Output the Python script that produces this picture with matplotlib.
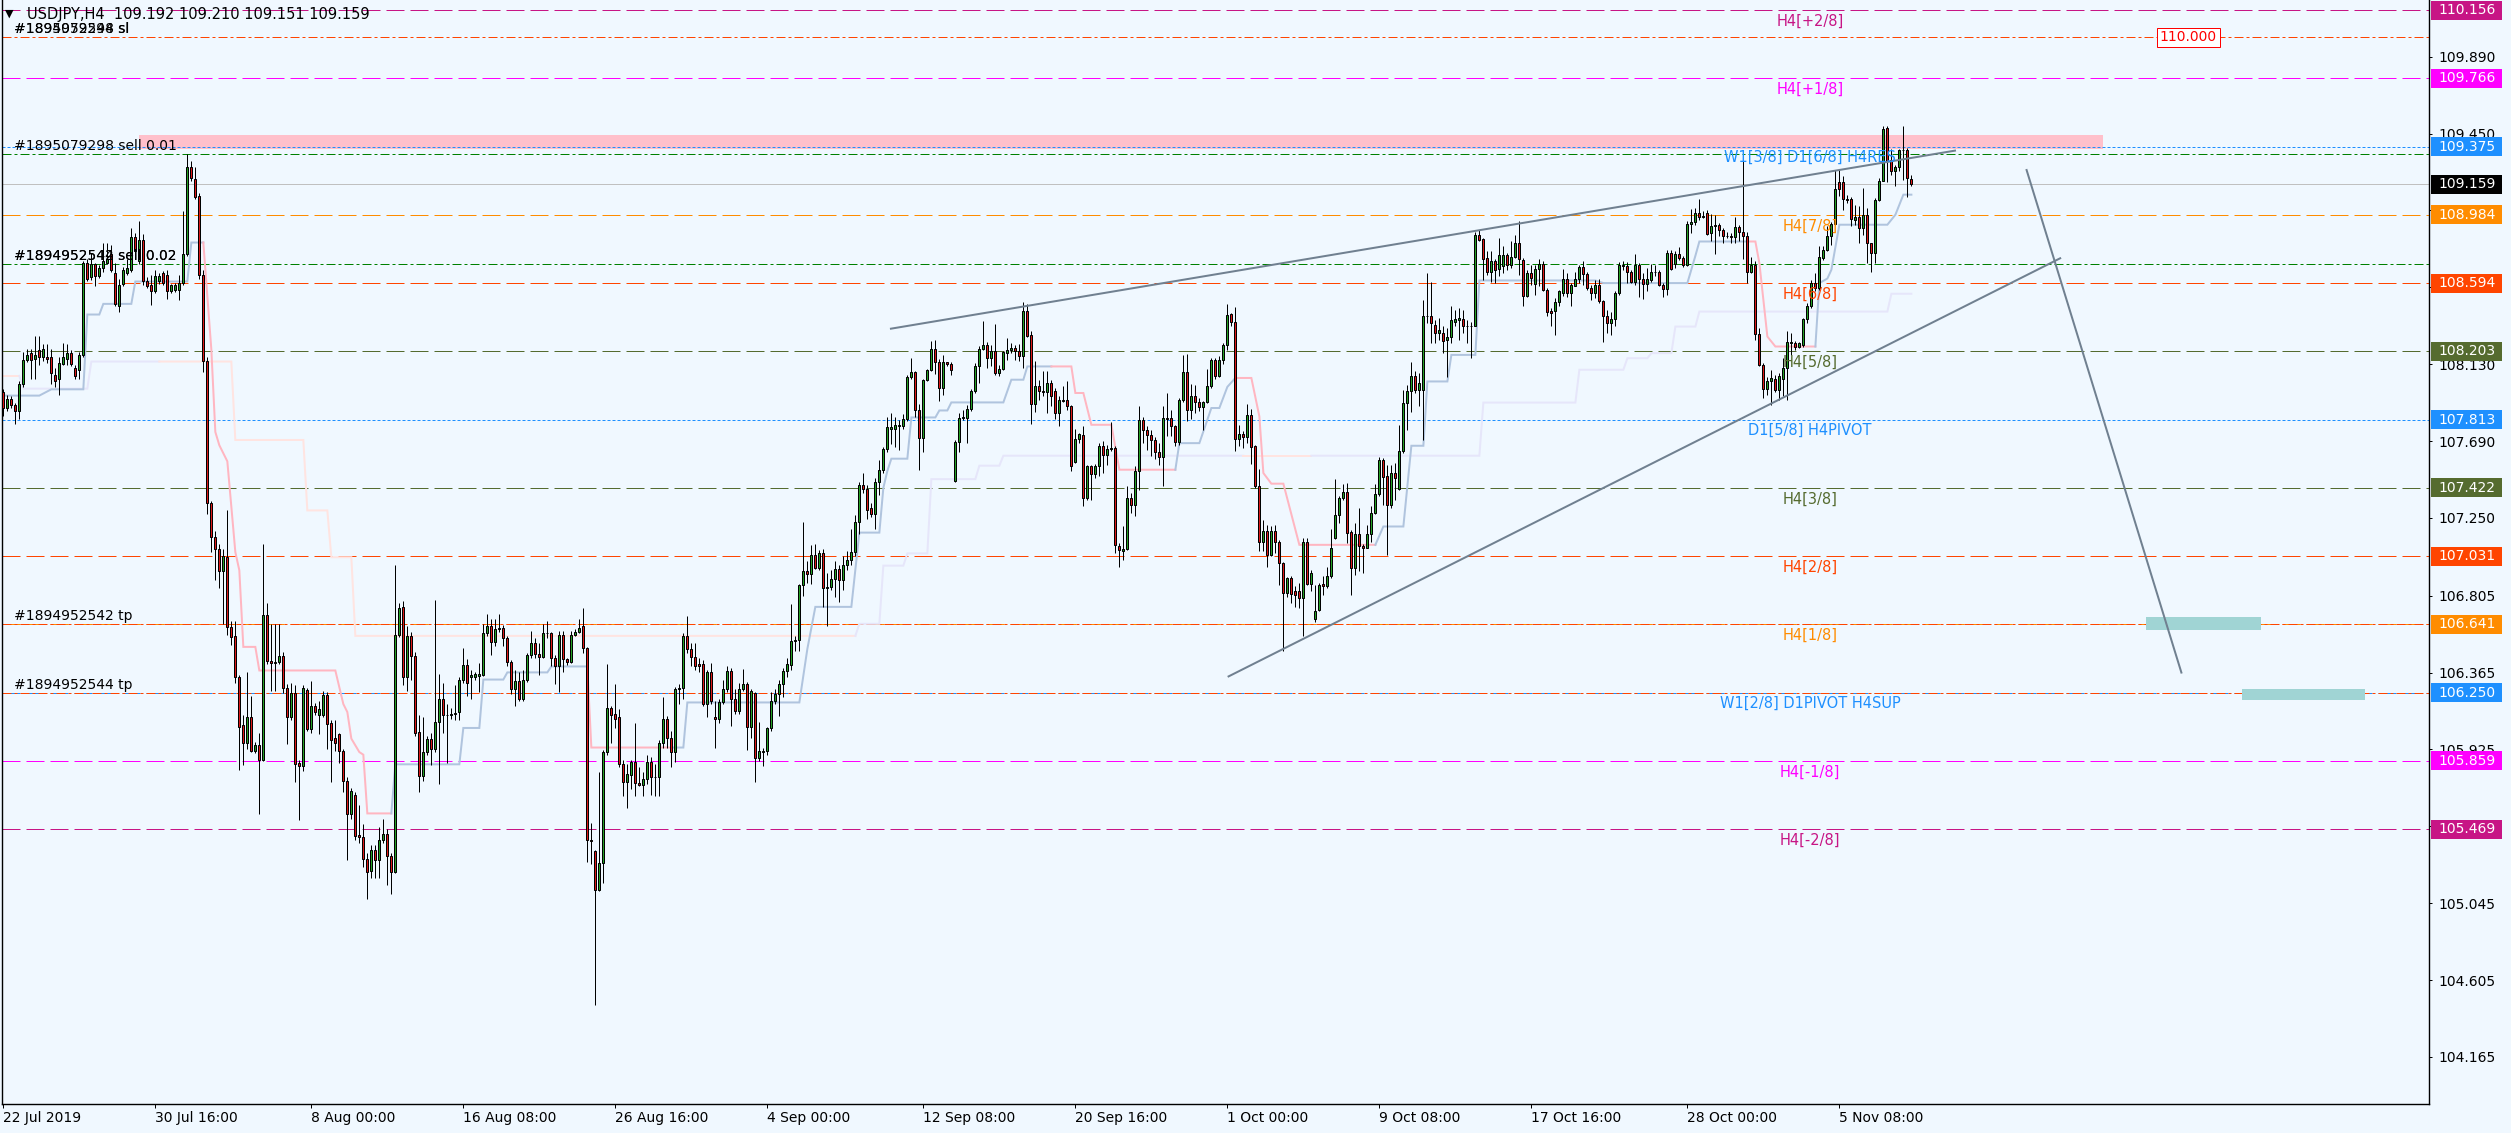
import numpy as np
import matplotlib
matplotlib.use('Agg')
import matplotlib.pyplot as plt
from matplotlib.patches import Rectangle
from matplotlib.transforms import blended_transform_factory

# ---- USDJPY H4 candles (bar 0 = 22 Jul 2019 00:00) ----
opens = [
107.971,107.879,107.931,107.895,107.864,108.017,108.154,108.191,108.160,108.209,
108.169,108.169,108.169,108.069,108.047,108.133,108.160,108.191,108.108,108.099,
108.185,108.710,108.627,108.704,108.637,108.679,108.710,108.759,108.649,108.460,
108.588,108.649,108.667,108.856,108.719,108.841,108.606,108.582,108.551,108.606,
108.649,108.643,108.551,108.557,108.557,108.597,108.759,109.259,109.192,109.094,
108.643,108.148,107.336,107.141,107.070,106.948,107.025,106.628,106.573,106.338,
106.063,105.962,106.108,105.919,105.950,105.864,106.695,106.429,106.420,106.426,
106.460,106.277,106.108,106.246,105.849,105.828,106.267,106.041,106.176,106.124,
106.124,106.237,106.078,105.992,106.011,105.919,105.742,105.553,105.666,105.437,
105.422,105.299,105.229,105.351,105.290,105.406,105.443,105.315,105.223,106.582,
106.741,106.338,106.573,106.460,106.023,105.773,105.910,105.986,105.925,106.084,
106.215,106.124,106.120,106.127,106.139,106.322,106.408,106.339,106.339,106.344,
106.352,106.589,106.630,106.539,106.616,106.622,106.561,106.427,106.269,106.316,
106.214,106.325,106.464,106.533,106.472,106.455,106.594,106.591,106.450,106.400,
106.580,106.444,106.427,106.580,106.597,106.630,106.505,105.408,105.344,105.122,
105.277,105.908,106.164,106.130,106.111,105.844,105.741,105.778,105.852,105.733,
105.719,105.755,105.852,105.769,105.766,105.964,106.102,105.991,105.908,106.269,
106.277,106.575,106.500,106.455,106.416,106.416,106.186,106.366,106.110,106.102,
106.194,106.269,106.372,106.214,106.144,106.269,106.302,106.055,106.250,105.875,
105.910,105.916,106.047,106.205,106.244,106.302,106.372,106.408,106.547,106.550,
106.866,106.944,106.928,107.039,106.964,107.047,106.847,106.852,106.900,106.955,
106.894,106.978,107.011,107.055,107.227,107.441,107.416,107.305,107.275,107.455,
107.525,107.644,107.761,107.761,107.778,107.778,107.816,108.055,108.083,107.866,
107.705,108.039,108.094,108.219,108.144,107.993,108.140,108.133,107.459,107.682,
107.821,107.821,107.873,107.974,108.117,108.217,108.241,108.165,108.203,108.079,
108.102,108.194,108.209,108.222,108.203,108.178,108.432,108.299,107.904,108.003,
107.974,107.968,108.022,107.974,107.850,107.926,107.926,107.888,107.568,107.701,
107.726,107.363,107.545,107.503,107.549,107.659,107.612,107.644,107.650,107.091,
107.058,107.072,107.363,107.325,107.516,107.812,107.751,107.726,107.694,107.625,
107.598,107.821,107.821,107.778,107.682,107.926,108.083,107.865,107.949,107.911,
107.884,107.911,108.003,108.155,108.064,108.155,108.241,108.417,108.369,107.701,
107.732,107.713,107.841,107.659,107.434,107.115,107.173,107.039,107.173,107.115,
106.991,106.823,106.905,106.829,106.829,106.791,107.115,106.873,106.671,106.724,
106.873,106.858,106.919,107.134,107.268,107.363,107.396,107.167,106.963,107.159,
107.091,107.077,107.159,107.278,107.388,107.579,107.488,107.325,107.507,107.415,
107.631,107.907,107.978,108.060,107.983,107.983,108.403,108.407,108.355,108.311,
108.311,108.269,108.288,108.374,108.382,108.388,108.349,108.346,108.350,108.870,
108.846,108.737,108.655,108.718,108.674,108.689,108.756,108.699,108.746,108.826,
108.727,108.521,108.651,108.590,108.674,108.704,108.556,108.437,108.437,108.483,
108.540,108.617,108.536,108.578,108.617,108.685,108.647,108.565,108.536,108.584,
108.489,108.407,108.365,108.388,108.536,108.699,108.693,108.655,108.603,108.699,
108.617,108.590,108.613,108.660,108.660,108.584,108.559,108.765,108.704,108.762,
108.737,108.699,108.933,108.941,108.994,108.971,108.994,108.880,108.928,108.928,
108.895,108.865,108.865,108.857,108.914,108.884,108.865,108.660,108.699,108.304,
108.126,107.987,108.031,108.044,107.983,108.044,108.107,108.250,108.250,108.227,
108.241,108.388,108.460,108.594,108.565,108.737,108.781,108.865,108.933,109.170,
109.170,109.075,109.075,108.956,108.975,108.909,108.985,108.823,108.765,109.071,
109.180,109.481,109.300,109.233,109.258,109.357,109.357,109.192]
highs = [
107.986,107.956,107.947,107.910,108.032,108.200,108.215,108.215,108.292,108.292,
108.246,108.246,108.215,108.108,108.169,108.252,108.246,108.209,108.124,108.200,
108.719,108.734,108.765,108.710,108.698,108.826,108.826,108.811,108.710,108.618,
108.688,108.734,108.911,108.881,108.948,108.872,108.627,108.643,108.667,108.652,
108.665,108.667,108.590,108.595,108.643,109.009,109.330,109.290,109.259,109.107,
108.667,108.169,107.345,107.177,107.101,107.070,107.293,106.658,106.658,106.353,
106.124,106.368,106.231,105.965,106.017,107.101,106.765,106.643,106.643,106.643,
106.481,106.298,106.307,106.292,105.864,106.292,106.277,106.316,106.190,106.200,
106.261,106.255,106.093,106.093,106.017,105.925,105.767,105.706,105.681,105.605,
105.498,105.330,105.376,105.376,105.483,105.529,105.467,105.330,106.979,106.765,
106.774,106.634,106.597,106.481,106.124,106.108,106.002,106.017,106.780,106.359,
106.307,106.185,106.160,106.292,106.338,106.506,106.444,106.380,106.370,106.422,
106.644,106.700,106.672,106.672,106.700,106.639,106.575,106.436,106.380,106.366,
106.380,106.477,106.602,106.561,106.533,106.644,106.658,106.600,106.464,106.602,
106.602,106.450,106.602,106.617,106.672,106.733,106.511,105.505,105.352,105.797,
105.922,106.416,106.172,106.302,106.158,105.866,105.839,105.866,106.075,105.825,
105.797,105.894,105.880,105.839,105.977,106.227,106.116,106.033,106.283,106.297,
106.594,106.686,106.533,106.533,106.450,106.436,106.380,106.422,106.200,106.214,
106.325,106.400,106.394,106.269,106.305,106.388,106.311,106.269,106.255,106.083,
105.936,106.055,106.255,106.269,106.325,106.394,106.450,106.755,106.575,106.872,
107.227,107.005,107.094,107.100,107.066,107.075,106.936,106.950,107.005,106.978,
107.033,107.061,107.186,107.269,107.455,107.505,107.436,107.338,107.477,107.583,
107.658,107.825,107.852,107.825,107.811,107.844,108.066,108.166,108.089,107.900,
108.047,108.102,108.261,108.269,108.158,108.184,108.140,108.140,107.697,107.850,
107.869,107.898,107.988,108.136,108.236,108.375,108.255,108.241,108.362,108.127,
108.203,108.280,108.251,108.241,108.247,108.484,108.476,108.318,108.146,108.041,
108.089,108.089,108.041,107.993,107.945,108.007,108.031,107.898,107.759,107.736,
107.774,107.554,107.554,107.560,107.678,107.688,107.669,107.797,107.659,107.106,
107.201,107.430,107.392,107.545,107.888,107.827,107.778,107.755,107.713,107.678,
107.888,107.965,107.869,107.783,107.936,108.184,108.190,108.018,108.012,107.936,
107.917,108.102,108.165,108.165,108.175,108.251,108.476,108.423,108.457,107.783,
107.745,107.904,107.873,107.669,107.530,107.239,107.211,107.201,107.211,107.125,
106.995,106.911,106.919,106.858,106.877,107.135,107.135,106.953,106.867,106.877,
106.915,106.972,107.186,107.472,107.373,107.446,107.449,107.182,107.220,107.306,
107.102,107.211,107.316,107.446,107.598,107.592,107.554,107.554,107.564,107.783,
107.984,108.012,108.140,108.089,108.078,108.498,108.651,108.603,108.384,108.393,
108.346,108.336,108.460,108.441,108.451,108.441,108.384,108.374,108.889,108.899,
108.851,108.775,108.775,108.731,108.851,108.804,108.766,108.832,108.870,108.947,
108.737,108.670,108.699,108.699,108.731,108.718,108.565,108.451,108.508,108.556,
108.674,108.651,108.597,108.655,108.699,108.718,108.655,108.584,108.609,108.617,
108.498,108.441,108.431,108.546,108.712,108.718,108.712,108.670,108.762,108.708,
108.651,108.680,108.704,108.699,108.670,108.594,108.785,108.785,108.775,108.800,
108.750,108.947,109.017,109.023,109.075,109.004,109.010,108.991,108.985,108.937,
108.909,108.889,108.880,108.975,108.928,109.290,108.889,108.746,108.718,108.336,
108.136,108.059,108.098,108.069,108.078,108.164,108.317,108.311,108.260,108.254,
108.393,108.479,108.609,108.651,108.804,108.807,108.918,108.941,109.243,109.246,
109.204,109.099,109.086,109.042,109.033,109.137,109.023,108.826,109.080,109.195,
109.494,109.494,109.361,109.271,109.361,109.491,109.367,109.210]
lows = [
107.834,107.864,107.879,107.788,107.818,108.002,108.140,108.047,108.047,108.124,
108.150,108.139,108.017,108.002,107.956,108.124,108.124,108.118,108.047,108.047,
108.170,108.606,108.612,108.576,108.625,108.658,108.704,108.658,108.460,108.429,
108.576,108.643,108.658,108.765,108.704,108.582,108.566,108.466,108.536,108.590,
108.585,108.505,108.540,108.545,108.496,108.582,108.750,109.177,109.076,108.618,
108.087,107.275,107.055,106.896,106.847,106.643,106.582,106.521,106.307,105.809,
105.834,105.925,105.910,105.905,105.553,105.858,106.414,106.261,106.261,106.414,
106.246,105.956,106.093,105.736,105.522,105.803,106.032,106.017,106.120,106.011,
106.108,105.925,105.736,105.919,105.849,105.681,105.290,105.529,105.407,105.392,
105.254,105.070,105.192,105.192,105.192,105.391,105.147,105.095,105.217,106.567,
106.292,106.261,106.322,106.002,105.681,105.742,105.895,105.834,105.910,105.727,
106.017,105.849,106.100,106.093,106.093,106.307,106.231,106.214,106.320,106.255,
106.344,106.575,106.464,106.519,106.600,106.519,106.400,106.241,106.172,106.200,
106.200,106.310,106.450,106.450,106.352,106.450,106.561,106.400,106.297,106.255,
106.366,106.408,106.420,106.575,106.589,106.477,105.283,105.269,104.464,105.116,
105.158,105.894,105.964,106.047,105.825,105.658,105.589,105.700,105.658,105.714,
105.658,105.727,105.666,105.658,105.658,105.936,105.936,105.825,105.852,106.186,
106.214,106.477,106.400,106.380,106.366,106.172,106.111,106.186,105.936,106.075,
106.186,106.255,106.061,106.130,106.130,106.260,105.922,105.991,105.736,105.860,
105.833,105.894,106.033,106.186,106.116,106.227,106.339,106.380,106.491,106.491,
106.805,106.880,106.872,106.955,106.950,106.741,106.630,106.839,106.797,106.769,
106.839,106.950,106.978,107.033,107.158,107.394,107.241,107.255,107.186,107.380,
107.505,107.630,107.672,107.658,107.638,107.761,107.805,108.047,107.825,107.527,
107.630,108.033,108.089,108.075,107.922,107.955,108.117,108.070,107.455,107.625,
107.810,107.678,107.860,107.965,108.022,108.213,108.108,108.117,108.070,108.064,
108.098,108.156,108.194,108.156,108.146,108.108,108.285,107.789,107.854,107.927,
107.946,107.850,107.888,107.816,107.778,107.911,107.869,107.516,107.564,107.678,
107.316,107.354,107.354,107.478,107.488,107.507,107.554,107.631,107.052,106.968,
107.010,107.068,107.278,107.259,107.411,107.678,107.640,107.606,107.587,107.554,
107.434,107.717,107.717,107.659,107.669,107.911,107.802,107.816,107.850,107.860,
107.755,107.907,107.993,108.045,108.058,108.133,108.213,108.346,107.631,107.659,
107.650,107.678,107.560,107.421,107.058,107.058,106.972,107.030,107.049,106.867,
106.486,106.800,106.762,106.743,106.734,106.572,106.867,106.829,106.657,106.715,
106.810,106.848,106.905,107.129,107.220,107.354,107.106,106.810,106.925,106.944,
106.934,107.077,107.115,107.274,107.373,107.325,107.039,107.306,107.354,107.411,
107.621,107.755,107.854,107.965,107.888,107.697,108.365,108.250,108.250,108.269,
108.193,108.059,108.250,108.346,108.269,108.307,108.250,108.164,108.346,108.832,
108.613,108.641,108.603,108.594,108.632,108.651,108.670,108.680,108.737,108.641,
108.464,108.517,108.584,108.527,108.575,108.546,108.403,108.346,108.298,108.460,
108.521,108.517,108.460,108.575,108.594,108.584,108.556,108.498,108.508,108.479,
108.254,108.307,108.298,108.349,108.527,108.670,108.594,108.594,108.584,108.517,
108.502,108.546,108.603,108.632,108.575,108.517,108.527,108.666,108.680,108.727,
108.685,108.693,108.880,108.927,108.956,108.966,108.870,108.832,108.762,108.865,
108.823,108.851,108.823,108.823,108.832,108.731,108.594,108.651,108.269,108.117,
107.935,107.954,107.897,107.973,107.926,107.945,107.926,108.183,108.212,108.221,
108.231,108.365,108.451,108.546,108.556,108.727,108.775,108.813,108.928,109.090,
109.013,109.055,108.922,108.928,108.826,108.870,108.708,108.655,108.708,109.061,
109.176,109.170,109.214,109.151,109.233,109.185,109.086,109.151]
closes = [
107.879,107.931,107.895,107.864,108.017,108.154,108.185,108.154,108.185,108.169,
108.215,108.160,108.078,108.032,108.139,108.169,108.191,108.130,108.063,108.185,
108.710,108.618,108.704,108.637,108.679,108.719,108.734,108.667,108.475,108.582,
108.667,108.679,108.856,108.780,108.841,108.606,108.576,108.551,108.637,108.637,
108.597,108.551,108.582,108.582,108.597,108.759,109.259,109.198,109.085,108.643,
108.148,107.336,107.141,107.070,106.948,107.031,106.628,106.567,106.338,106.054,
105.962,106.108,105.919,105.950,105.864,106.695,106.429,106.420,106.426,106.460,
106.277,106.108,106.246,105.840,105.828,106.277,106.041,106.176,106.139,106.154,
106.237,106.072,105.980,105.962,105.919,105.742,105.553,105.687,105.431,105.422,
105.299,105.223,105.351,105.290,105.406,105.443,105.315,105.223,106.582,106.734,
106.338,106.573,106.460,106.017,105.773,105.910,105.986,105.925,106.084,106.215,
106.124,106.120,106.127,106.133,106.322,106.408,106.307,106.352,106.358,106.358,
106.589,106.630,106.539,106.616,106.622,106.561,106.427,106.269,106.316,106.214,
106.325,106.464,106.533,106.472,106.455,106.594,106.591,106.450,106.400,106.580,
106.444,106.427,106.580,106.597,106.622,106.505,105.408,105.403,105.122,105.277,
105.908,106.164,106.122,106.102,105.844,105.741,105.783,105.852,105.733,105.719,
105.755,105.852,105.769,105.766,105.964,106.102,105.991,105.908,106.269,106.277,
106.575,106.500,106.455,106.400,106.400,106.186,106.366,106.200,106.100,106.194,
106.269,106.372,106.214,106.144,106.269,106.302,106.055,106.261,105.875,105.916,
105.916,106.047,106.205,106.244,106.302,106.372,106.414,106.547,106.550,106.866,
106.944,106.928,107.039,106.964,107.047,106.847,106.852,106.900,106.955,106.894,
106.978,107.011,107.055,107.227,107.441,107.416,107.297,107.275,107.455,107.525,
107.644,107.769,107.769,107.783,107.783,107.816,108.055,108.083,107.866,107.705,
108.039,108.094,108.219,108.144,107.991,108.140,108.133,108.094,107.682,107.821,
107.825,107.873,107.974,108.121,108.217,108.241,108.165,108.203,108.079,108.102,
108.198,108.209,108.222,108.203,108.178,108.432,108.293,107.904,108.003,107.974,
107.968,108.022,107.949,107.850,107.926,107.922,107.892,107.549,107.701,107.732,
107.363,107.545,107.503,107.549,107.659,107.612,107.644,107.650,107.096,107.064,
107.072,107.363,107.325,107.516,107.808,107.751,107.726,107.697,107.625,107.598,
107.821,107.818,107.774,107.682,107.926,108.083,107.865,107.949,107.911,107.884,
107.911,108.003,108.155,108.064,108.155,108.241,108.413,108.369,107.701,107.732,
107.713,107.841,107.656,107.430,107.115,107.173,107.039,107.173,107.115,106.991,
106.823,106.905,106.816,106.810,106.791,107.115,106.873,106.934,106.720,106.867,
106.858,106.919,107.077,107.268,107.363,107.396,107.163,106.963,107.159,107.087,
107.077,107.159,107.278,107.388,107.579,107.484,107.325,107.507,107.478,107.631,
107.907,107.978,108.060,107.980,108.021,108.407,108.407,108.365,108.307,108.323,
108.260,108.288,108.380,108.388,108.393,108.349,108.346,108.350,108.870,108.842,
108.731,108.655,108.718,108.670,108.756,108.756,108.699,108.746,108.826,108.731,
108.521,108.651,108.622,108.674,108.704,108.556,108.426,108.422,108.483,108.546,
108.617,108.540,108.584,108.617,108.685,108.647,108.565,108.536,108.584,108.489,
108.407,108.365,108.388,108.540,108.699,108.689,108.655,108.603,108.699,108.617,
108.590,108.617,108.660,108.657,108.584,108.559,108.765,108.674,108.762,108.737,
108.699,108.933,108.941,108.994,108.971,108.979,108.876,108.922,108.918,108.895,
108.865,108.861,108.857,108.914,108.884,108.865,108.660,108.699,108.304,108.126,
107.987,108.031,108.050,107.983,108.063,108.107,108.254,108.254,108.227,108.250,
108.388,108.460,108.594,108.565,108.746,108.785,108.865,108.933,109.132,109.132,
109.075,109.067,108.960,108.975,108.909,108.985,108.823,108.765,109.071,109.180,
109.475,109.290,109.233,109.258,109.357,109.353,109.195,109.159]

# date axis
date_bars = [0, 38, 77, 115, 153, 191, 230, 268, 306, 344, 382, 421, 459]
date_labels = ['22 Jul 2019', '30 Jul 16:00', '8 Aug 00:00', '16 Aug 08:00',
               '26 Aug 16:00', '4 Sep 00:00', '12 Sep 08:00', '20 Sep 16:00',
               '1 Oct 00:00', '9 Oct 08:00', '17 Oct 16:00', '28 Oct 00:00',
               '5 Nov 08:00']
price_ticks = [104.165, 104.605, 105.045, 105.485, 105.925, 106.365, 106.805,
               107.250, 107.690, 108.130, 108.570, 109.010, 109.450, 109.890]
# 108.570 sits fully under the 108.594 tag, so its text is not shown
price_tick_labels = ['104.165', '104.605', '105.045', '105.485', '105.925',
                     '106.365', '106.805', '107.250', '107.690', '108.130', '',
                     '109.010', '109.450', '109.890']

# Murrey math levels
mm_prices = [110.156, 109.766, 109.375, 108.984, 108.594, 108.203, 107.813,
             107.422, 107.031, 106.641, 106.250, 105.859, 105.469]
mm_names = ['H4[+2/8]', 'H4[+1/8]', 'W1[3/8] D1[6/8] H4RES', 'H4[7/8]', 'H4[6/8]',
            'H4[5/8]', 'D1[5/8] H4PIVOT', 'H4[3/8]', 'H4[2/8]', 'H4[1/8]',
            'W1[2/8] D1PIVOT H4SUP', 'H4[-1/8]', 'H4[-2/8]']
mm_colors = ['#C71585', '#FF00FF', '#1E90FF', '#FF8C00', '#FF4500', '#556B2F',
             '#1E90FF', '#556B2F', '#FF4500', '#FF8C00', '#1E90FF', '#FF00FF',
             '#C71585']
mm_styles = ['dash', 'dash', 'dot', 'dash', 'dash', 'dash', 'dot', 'dash',
             'dash', 'dash', 'dash', 'dash', 'dash']

# trade lines
order_prices = [110.000, 109.333, 108.702, 106.641, 106.250]
order_colors = ['#FF4500', '#008000', '#008000', '#FF4500', '#FF4500']
order_texts = ['#1895079298 sl', '#1894952544 sl', '#1895079298 sell 0.01',
               '#1894952542 sell 0.02', '#1894952544 sell 0.02',
               '#1894952542 tp', '#1894952544 tp']
order_text_prices = [110.000, 110.000, 109.333, 108.702, 108.702, 106.641, 106.250]

# fast stop line (steel blue up / pink down)
fast_x = [0, 9, 12, 20, 21, 24, 25, 32, 33, 46, 47, 50,
          52, 53, 54, 56, 57, 58, 59, 60, 63, 64, 83, 85, 86, 87, 89, 90, 91, 97,
          98, 114, 115, 119, 120, 125, 126, 136, 137, 146,
          147, 167,
          170, 171, 199, 201, 203, 212, 214, 219, 220, 221, 222, 226, 227, 233,
          234, 236, 237, 250, 252, 255, 256, 262,
          267, 268, 270, 272, 277, 279, 293,
          294, 299, 302, 304, 306, 308,
          312, 314, 315, 317, 320, 324, 343,
          345, 350, 352, 355, 356, 361, 362, 368, 369, 398, 400, 421, 423, 424, 436,
          438, 439, 441, 443, 453,
          454, 456, 457, 459, 471, 473, 475, 477]
fast_y = [107.950, 107.950, 107.986, 107.986, 108.414, 108.414, 108.475, 108.475,
          108.603, 108.603, 108.826, 108.826,
          108.215, 107.742, 107.666, 107.574, 107.315, 107.055, 106.950, 106.512,
          106.512, 106.377, 106.377, 106.185, 106.139, 105.987, 105.910, 105.895,
          105.559, 105.559,
          105.840, 105.840, 106.048, 106.048, 106.325, 106.325, 106.366, 106.366,
          106.400, 106.400,
          105.936, 105.936,
          105.936, 106.194, 106.194, 106.500, 106.741, 106.741, 107.166, 107.166,
          107.422, 107.519, 107.589, 107.589, 107.825, 107.825,
          107.865, 107.865, 107.911, 107.911, 108.041, 108.041, 108.117, 108.117,
          108.117, 107.965, 107.965, 107.783, 107.783, 107.526, 107.526,
          107.678, 107.678, 107.879, 107.879, 108.000, 108.051,
          108.051, 107.831, 107.507, 107.446, 107.446, 107.096, 107.096,
          107.201, 107.201, 107.663, 107.663, 108.031, 108.031, 108.183, 108.183,
          108.609, 108.609, 108.594, 108.594, 108.750, 108.832, 108.832,
          108.832, 108.708, 108.288, 108.231, 108.231,
          108.594, 108.620, 108.670, 108.928, 108.928, 108.985, 109.100, 109.100]
fast_switch = [50, 97, 146, 167, 262, 293, 308, 343, 436, 453]

# slow stop line (lavender up / misty rose down)
slow_x = [0, 4, 5, 21, 22, 39, 57, 58, 75, 76, 81, 82, 87, 88, 213,
          214, 219, 220, 225, 226, 231, 232, 243, 244, 249, 250, 310, 327, 369,
          370, 393, 394, 405, 406, 411, 412, 417, 418, 423, 424, 471, 472, 477]
slow_y = [108.063, 108.063, 107.990, 107.990, 108.145, 108.145, 108.145, 107.696,
          107.696, 107.293, 107.293, 107.025, 107.025, 106.575, 106.575,
          106.644, 106.644, 106.977, 106.977, 107.047, 107.047, 107.472, 107.472,
          107.549, 107.549, 107.606, 107.606, 107.606, 107.606,
          107.910, 107.910, 108.098, 108.098, 108.164, 108.164, 108.193, 108.193,
          108.345, 108.345, 108.431, 108.431, 108.533, 108.533]
slow_switch = [4, 39, 213, 310, 327]

# hand drawn objects
trend_x = [(221.9, 487.9), (306.3, 514.2), (505.8, 544.5)]
trend_y = [(108.333, 109.352), (106.343, 108.736), (109.241, 106.365)]
band_x = (33.9, 524.9)
band_y = (109.362, 109.442)
box_x = [(535.7, 564.5), (559.7, 590.4)]
box_y = [(106.609, 106.683), (106.209, 106.271)]
sl_label_bar = 546.2
sl_label_price = 110.000
bid = 109.159

BG = '#F0F8FF'
PX = 0.72  # one pixel in points at dpi 100

fig = plt.figure(figsize=(25.11, 11.33), dpi=100, facecolor=BG)
ax = fig.add_axes([2 / 2511, 29 / 1133, 2427 / 2511, 1104 / 1133])
ax.set_facecolor(BG)
ax.set_xlim(-0.33, 606.4)
ax.set_ylim(103.896, 110.214)

dash_map = {'dash': (18, 6), 'dot': (3, 2), 'dashdot': (9, 3, 3, 3)}

# pink rectangle
ax.add_patch(Rectangle((band_x[0], band_y[0]), band_x[1] - band_x[0],
                       band_y[1] - band_y[0], color='#FFC0CB', lw=0, zorder=0.5))

# Murrey levels
for p, c, s in zip(mm_prices, mm_colors, mm_styles):
    ax.axhline(p, color=c, lw=PX, dashes=dash_map[s], zorder=1)
# order lines
for p, c in zip(order_prices, order_colors):
    ax.axhline(p, color=c, lw=PX, dashes=dash_map['dashdot'], zorder=1.1)
# bid line
ax.axhline(bid, color='#C0C0C0', lw=PX, zorder=1.2)


def draw_stop_line(xs, ys, switches, start_up, up_color, dn_color, lw):
    xs = np.array(xs, dtype=float)
    ys = np.array(ys, dtype=float)
    bounds = [xs[0]] + list(switches) + [xs[-1]]
    up = start_up
    for b0, b1 in zip(bounds[:-1], bounds[1:]):
        m = (xs >= b0) & (xs <= b1)
        ax.plot(xs[m], ys[m], color=up_color if up else dn_color, lw=lw,
                solid_joinstyle='miter', zorder=2)
        up = not up


draw_stop_line(slow_x, slow_y, slow_switch, False, '#E6E6FA', '#FFE4E1', 2 * PX)
draw_stop_line(fast_x, fast_y, fast_switch, True, '#B0C4DE', '#FFB6C1', 2 * PX)

# candles
o = np.array(opens)
h = np.array(highs)
l = np.array(lows)
c = np.array(closes)
x = np.arange(len(c))
bull = c >= o
ax.vlines(x, l, h, color='black', lw=PX, zorder=4)
bot = np.minimum(o, c)
hgt = np.maximum(np.abs(c - o), 0.003)
ax.bar(x[bull], hgt[bull], 0.55, bot[bull], color='#24A024', edgecolor='black',
       lw=PX, zorder=5)
ax.bar(x[~bull], hgt[~bull], 0.55, bot[~bull], color='#DC1818', edgecolor='black',
       lw=PX, zorder=5)

# trend lines
for tx, ty in zip(trend_x, trend_y):
    ax.plot(tx, ty, color='#708090', lw=2 * PX, zorder=6)

# teal boxes
for bx, by in zip(box_x, box_y):
    ax.add_patch(Rectangle((bx[0], by[0]), bx[1] - bx[0], by[1] - by[0],
                           facecolor='#A0D4D4', edgecolor='none', zorder=3))

# sl price label
ax.text(sl_label_bar, sl_label_price, '110.000', color='#FF0000', fontsize=10,
        ha='center', va='center', zorder=7,
        bbox=dict(boxstyle='square,pad=0.2', fc='white', ec='#FF0000', lw=PX))

# Murrey labels
for p, n, col in zip(mm_prices, mm_names, mm_colors):
    ax.annotate(n, (451.7, p), xytext=(0, -11), textcoords='offset pixels',
                ha='center', va='center', color=col, fontsize=10.5, zorder=7)

# order labels
for t, p in zip(order_texts, order_text_prices):
    ax.annotate(t, (2.67, p), xytext=(0, 1), textcoords='offset pixels',
                ha='left', va='bottom', color='black', fontsize=10, zorder=7)

# axes styling
ax.spines['top'].set_visible(False)
for side in ['left', 'right', 'bottom']:
    ax.spines[side].set_linewidth(PX * 1.4)
    ax.spines[side].set_color('black')

ax.yaxis.tick_right()
ax.set_yticks(price_ticks)
ax.set_yticklabels(price_tick_labels)
ax.tick_params(axis='y', direction='out', length=3 * PX, width=PX, pad=6 * PX,
               labelsize=10, colors='black')
ax.set_xticks(date_bars)
ax.set_xticklabels(date_labels, ha='left')
ax.tick_params(axis='x', direction='out', length=4 * PX, width=PX, pad=3 * PX,
               labelsize=10, colors='black')

# right-side level tags
tr = blended_transform_factory(ax.transAxes, ax.transData)
box_left = 1 + 2 / 2427
box_w = 71 / 2427
box_h = 19 / 174.7
tag_prices = mm_prices[:3] + [bid] + mm_prices[3:]
tag_colors = mm_colors[:3] + ['black'] + mm_colors[3:]
for p, col in zip(tag_prices, tag_colors):
    ax.add_patch(Rectangle((box_left, p - box_h / 2), box_w, box_h, transform=tr,
                           facecolor=col, edgecolor='none', clip_on=False, zorder=8))
    ax.text(1 + 9 / 2427, p, '%.3f' % p, transform=tr, color='white', fontsize=10,
            ha='left', va='center', clip_on=False, zorder=9)

# header
fig.text(5 / 2511, 1 - 14 / 1133, '\u25bc', fontsize=8, va='center', ha='left')
fig.text(27 / 2511, 1 - 15 / 1133, 'USDJPY,H4  109.192 109.210 109.151 109.159',
         fontsize=10.5, va='center', ha='left')

fig.savefig('out.png', dpi=100, facecolor=BG)
